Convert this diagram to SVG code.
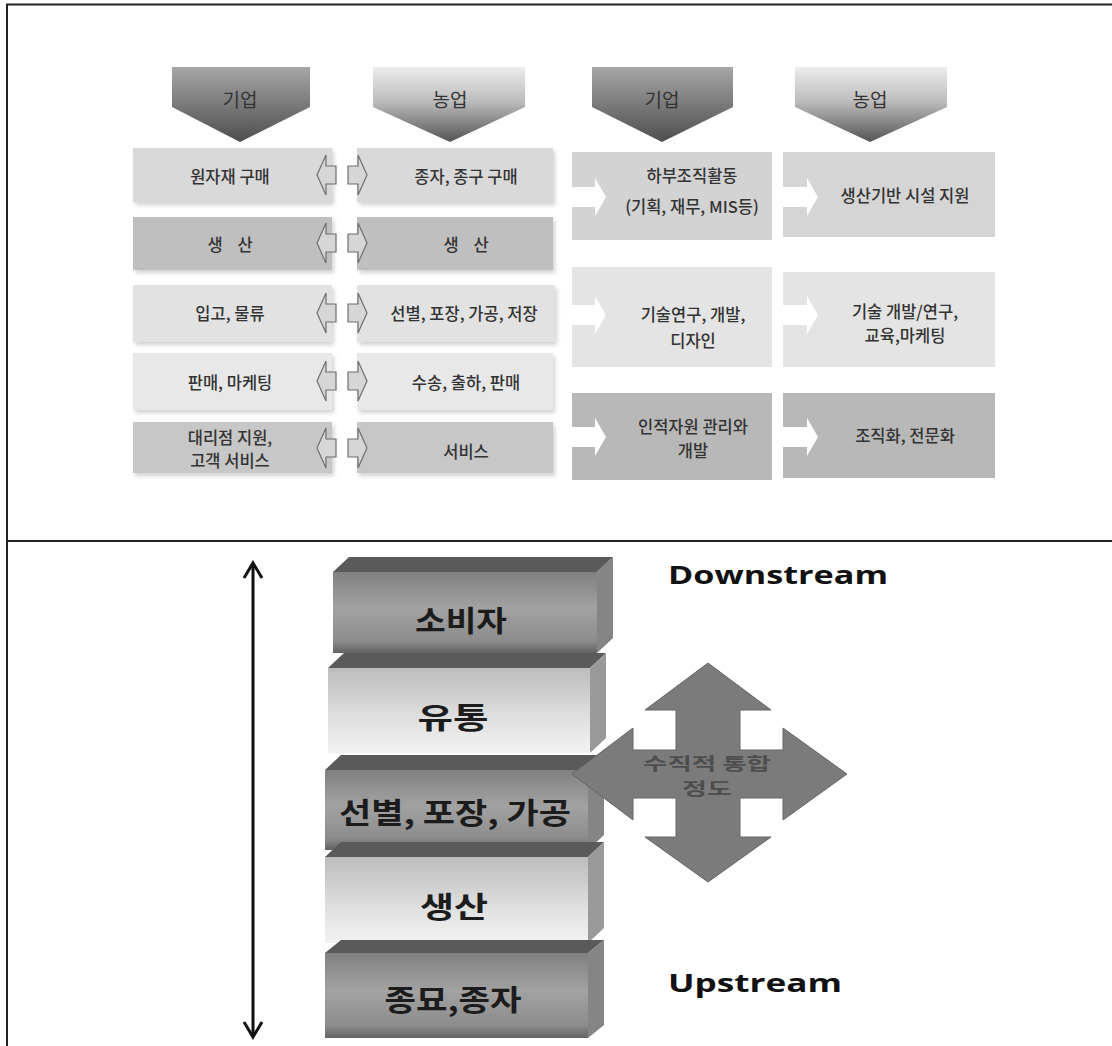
<svg xmlns="http://www.w3.org/2000/svg" width="1112" height="1046" viewBox="0 0 1112 1046">
<defs>
<style>
.t{font-family:"Noto Sans CJK KR","Noto Sans",sans-serif;font-size:16.5px;font-weight:500;fill:#333;text-anchor:middle;dominant-baseline:central;white-space:pre}
.h{font-family:"Noto Sans CJK KR","Noto Sans",sans-serif;font-size:19px;fill:#333;text-anchor:middle;dominant-baseline:central}
.b{font-family:"Noto Sans CJK KR","Noto Sans",sans-serif;font-size:29px;font-weight:bold;fill:#1c1c1c;text-anchor:middle;dominant-baseline:central}
.en{font-family:"Open Sans","DejaVu Sans",sans-serif;font-size:25px;font-weight:bold;fill:#111;text-anchor:start}
.ct{font-family:"Noto Sans CJK KR","Noto Sans",sans-serif;font-size:17px;font-weight:bold;fill:#4e4e4e;text-anchor:middle;dominant-baseline:central}
.sa{fill:#d6d6d6;stroke:#6e6e6e;stroke-width:1.2}
.wa{fill:#ffffff}
.frame{stroke:#222;stroke-width:2;fill:none}
.topD{fill:#5a5a5a}
.sideD{fill:#858585}
.sideL{fill:#9a9a9a}
</style>
<linearGradient id="gCorp" x1="0" y1="0" x2="0" y2="1">
<stop offset="0" stop-color="#a6a6a6"/><stop offset="1" stop-color="#4e4e4e"/>
</linearGradient>
<linearGradient id="gFarm" x1="0" y1="0" x2="0" y2="1">
<stop offset="0" stop-color="#ececec"/><stop offset="0.45" stop-color="#bdbdbd"/><stop offset="1" stop-color="#555"/>
</linearGradient>
<linearGradient id="gDark" x1="0" y1="0" x2="0" y2="1">
<stop offset="0" stop-color="#808080"/><stop offset="0.45" stop-color="#a2a2a2"/><stop offset="0.85" stop-color="#8c8c8c"/><stop offset="1" stop-color="#626262"/>
</linearGradient>
<linearGradient id="gLight" x1="0" y1="0" x2="0" y2="1">
<stop offset="0" stop-color="#bcbcbc"/><stop offset="0.6" stop-color="#e0e0e0"/><stop offset="1" stop-color="#f2f2f2"/>
</linearGradient>
<filter id="sh" x="-10%" y="-10%" width="120%" height="130%">
<feDropShadow dx="2" dy="3" stdDeviation="2" flood-color="#000" flood-opacity="0.18"/>
</filter>
</defs>

<rect width="1112" height="1046" fill="#fff"/>

<g id="frame">
<path class="frame" d="M7 1046 V4.5 H1112"/>
<line class="frame" x1="7" y1="541" x2="1112" y2="541"/>
</g>

<g id="hdr-corp1">
<polygon points="172,67 310,67 310,107 240,142 172,107" fill="url(#gCorp)"/>
<text class="h" x="240" y="98">기업</text>
</g>
<g id="hdr-farm1">
<polygon points="373,67 525,67 525,107 450,142 373,107" fill="url(#gFarm)"/>
<text class="h" x="450" y="98">농업</text>
</g>
<g id="hdr-corp2">
<polygon points="592,67 733,67 733,107 662,142 592,107" fill="url(#gCorp)"/>
<text class="h" x="662" y="98">기업</text>
</g>
<g id="hdr-farm2">
<polygon points="795,67 947,67 947,107 870,142 795,107" fill="url(#gFarm)"/>
<text class="h" x="870" y="98">농업</text>
</g>

<g id="c1r1"><rect x="133" y="148" width="199" height="54" fill="#d9d9d9" filter="url(#sh)"/><text class="t" x="230" y="176">원자재 구매</text></g>
<g id="c2r1"><rect x="357" y="148" width="196" height="54" fill="#d9d9d9" filter="url(#sh)"/><text class="t" x="466" y="176">종자, 종구 구매</text></g>
<g id="c1r2"><rect x="133" y="217" width="199" height="53" fill="#bfbfbf" filter="url(#sh)"/><text class="t" x="230" y="244" xml:space="preserve">생    산</text></g>
<g id="c2r2"><rect x="357" y="217" width="196" height="53" fill="#bfbfbf" filter="url(#sh)"/><text class="t" x="466" y="244" xml:space="preserve">생    산</text></g>
<g id="c1r3"><rect x="133" y="285" width="199" height="57" fill="#e2e2e2" filter="url(#sh)"/><text class="t" x="230" y="313">입고, 물류</text></g>
<g id="c2r3"><rect x="357" y="285" width="198" height="57" fill="#e2e2e2" filter="url(#sh)"/><text class="t" x="464" y="313">선별, 포장, 가공, 저장</text></g>
<g id="c1r4"><rect x="133" y="353" width="199" height="57" fill="#e8e8e8" filter="url(#sh)"/><text class="t" x="230" y="382">판매, 마케팅</text></g>
<g id="c2r4"><rect x="357" y="353" width="196" height="57" fill="#e8e8e8" filter="url(#sh)"/><text class="t" x="466" y="382">수송, 출하, 판매</text></g>
<g id="c1r5"><rect x="133" y="422" width="199" height="51" fill="#c7c7c7" filter="url(#sh)"/><text class="t" x="230" y="437">대리점 지원,</text><text class="t" x="230" y="460">고객 서비스</text></g>
<g id="c2r5"><rect x="357" y="422" width="196" height="51" fill="#c7c7c7" filter="url(#sh)"/><text class="t" x="466" y="451">서비스</text></g>

<g id="c3rA"><rect x="572" y="152" width="200" height="88" fill="#d3d3d3"/><text class="t" x="692" y="175">하부조직활동</text><text class="t" x="692" y="206">(기획, 재무, MIS등)</text></g>
<g id="c4rA"><rect x="783" y="152" width="212" height="85" fill="#d5d5d5"/><text class="t" x="905" y="195">생산기반 시설 지원</text></g>
<g id="c3rB"><rect x="572" y="267" width="200" height="100" fill="#e4e4e4"/><text class="t" x="693" y="314">기술연구, 개발,</text><text class="t" x="693" y="340">디자인</text></g>
<g id="c4rB"><rect x="783" y="272" width="212" height="95" fill="#e4e4e4"/><text class="t" x="905" y="311">기술 개발/연구,</text><text class="t" x="905" y="335">교육,마케팅</text></g>
<g id="c3rC"><rect x="572" y="393" width="200" height="87" fill="#b8b8b8"/><text class="t" x="693" y="426">인적자원 관리와</text><text class="t" x="693" y="450">개발</text></g>
<g id="c4rC"><rect x="783" y="393" width="212" height="85" fill="#b8b8b8"/><text class="t" x="905" y="435">조직화, 전문화</text></g>

<g id="blk-consumer">
<polygon class="topD" points="333,572 349,557 613,557 597,572"/>
<polygon class="sideD" points="597,572 613,557 613,638 597,653"/>
<rect x="333" y="572" width="264" height="81" fill="url(#gDark)"/>
<text class="b" x="461" y="619" textLength="92" lengthAdjust="spacingAndGlyphs">소비자</text>
</g>
<g id="blk-dist">
<polygon class="topD" points="328,668 344,653 606,653 590,668"/>
<polygon class="sideL" points="590,668 606,653 606,738 590,753"/>
<rect x="328" y="668" width="262" height="85" fill="url(#gLight)"/>
<text class="b" x="453" y="716" textLength="71" lengthAdjust="spacingAndGlyphs">유통</text>
</g>
<g id="blk-proc">
<polygon class="topD" points="325,770 341,755 604,755 588,770"/>
<polygon class="sideD" points="588,770 604,755 604,835 588,850"/>
<rect x="325" y="770" width="263" height="80" fill="url(#gDark)"/>
<text class="b" x="455" y="811" textLength="232" lengthAdjust="spacingAndGlyphs">선별, 포장, 가공</text>
</g>
<g id="blk-prod">
<polygon class="topD" points="325,857 341,842 604,842 588,857"/>
<polygon class="sideL" points="588,857 604,842 604,928 588,943"/>
<rect x="325" y="857" width="263" height="86" fill="url(#gLight)"/>
<text class="b" x="454" y="905" textLength="68" lengthAdjust="spacingAndGlyphs">생산</text>
</g>
<g id="blk-seed">
<polygon class="topD" points="325,953 341,940 604,940 588,953"/>
<polygon class="sideD" points="588,953 604,940 604,1025 588,1038"/>
<rect x="325" y="953" width="263" height="85" fill="url(#gDark)"/>
<text class="b" x="453" y="998" textLength="137" lengthAdjust="spacingAndGlyphs">종묘,종자</text>
</g>

<g id="cross">
<polygon points="708,663 771,710 740,710 740,750 783,750 783,728 847,774 783,820 783,798 740,798 740,837 771,837 708,882 645,837 676,837 676,798 633,798 633,820 572,774 633,728 633,750 676,750 676,710 645,710" fill="#7b7b7b" stroke="#666" stroke-width="1"/>
<text class="ct" x="707" y="762" textLength="128" lengthAdjust="spacingAndGlyphs">수직적 통합</text>
<text class="ct" x="707" y="787" textLength="50" lengthAdjust="spacingAndGlyphs">정도</text>
</g>

<g id="lbl-down"><text class="en" x="668" y="584" textLength="220" lengthAdjust="spacingAndGlyphs">Downstream</text></g>
<g id="lbl-up"><text class="en" x="668" y="992" textLength="174" lengthAdjust="spacingAndGlyphs">Upstream</text></g>

<g id="connectors">
<g>
<polygon class="sa" points="317,175 326,155 326,166 336,166 336,184 326,184 326,195"/>
<polygon class="sa" points="348,166 358,166 358,155 367,175 358,195 358,184 348,184"/>
<polygon class="sa" points="317,243 326,223 326,234 336,234 336,252 326,252 326,263"/>
<polygon class="sa" points="348,234 358,234 358,223 367,243 358,263 358,252 348,252"/>
<polygon class="sa" points="317,313 326,293 326,304 336,304 336,322 326,322 326,333"/>
<polygon class="sa" points="348,304 358,304 358,293 367,313 358,333 358,322 348,322"/>
<polygon class="sa" points="317,381 326,361 326,372 336,372 336,390 326,390 326,401"/>
<polygon class="sa" points="348,372 358,372 358,361 367,381 358,401 358,390 348,390"/>
<polygon class="sa" points="317,448 326,428 326,439 336,439 336,457 326,457 326,468"/>
<polygon class="sa" points="348,439 358,439 358,428 367,448 358,468 358,457 348,457"/>
</g>
<g>
<polygon class="wa" points="572,187 595,187 595,178 606,197 595,216 595,207 572,207"/>
<polygon class="wa" points="783,187 807,187 807,178 818,197 807,216 807,207 783,207"/>
<polygon class="wa" points="572,305 595,305 595,296 606,315 595,334 595,325 572,325"/>
<polygon class="wa" points="783,305 807,305 807,296 818,315 807,334 807,325 783,325"/>
<polygon class="wa" points="572,427 595,427 595,418 606,437 595,456 595,447 572,447"/>
<polygon class="wa" points="783,427 807,427 807,418 818,437 807,456 807,447 783,447"/>
</g>
<g fill="none" stroke="#111" stroke-width="3">
<line x1="253" y1="564" x2="253" y2="1036"/>
<polyline points="244,578 253,563 262,578"/>
<polyline points="244,1022 253,1037 262,1022"/>
</g>
</g>
</svg>
